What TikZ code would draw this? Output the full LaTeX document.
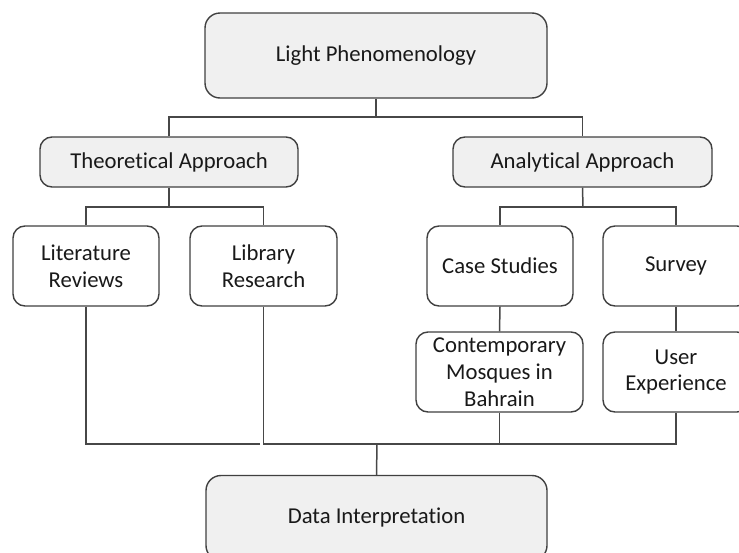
\documentclass[tikz,border=0pt]{standalone}
\usepackage{fontspec}
\setmainfont{Carlito}[Ligatures=CommonOff]
\begin{document}
\begin{tikzpicture}[x=0.5pt,y=-0.5pt,
  box/.style={draw=black!75, line width=0.7pt, rounded corners=6pt, align=center,
    inner sep=0pt, font=\fontsize{11.35pt}{13.4pt}\selectfont, text=black!90},
  grey/.style={box, fill=black!6},
  white/.style={box, fill=white},
  conn/.style={draw=black!72, line width=0.75pt}]
\useasboundingbox (0,0) rectangle (739,552);
\clip (0,0) rectangle (739,552);
\node[grey, minimum width=171pt, minimum height=42.5pt, rounded corners=7.5pt] (top) at (376,55.5) {Light Phenomenology};
\node[grey, minimum width=129pt, minimum height=25pt] (theo) at (169,162) {Theoretical Approach};
\node[grey, minimum width=129.5pt, minimum height=25pt] (anal) at (582.5,162) {Analytical Approach};
\node[white, minimum width=73pt, minimum height=40pt] (lit) at (86,266) {Literature\\Reviews};
\node[white, minimum width=73.5pt, minimum height=40pt] (lib) at (263.5,266) {Library\\Research};
\node[white, minimum width=73pt, minimum height=40pt] (case) at (500,266) {Case Studies};
\node[white, minimum width=73pt, minimum height=40pt] (survey) at (676,266) {Survey};
\node[white, minimum width=83.5pt, minimum height=40pt] (cont) at (499.5,372) {Contemporary\\Mosques in\\Bahrain};
\node[white, minimum width=73pt, minimum height=40pt] (user) at (676,372) {User\\Experience};
\node[grey, minimum width=170.5pt, minimum height=42.5pt, rounded corners=7.5pt] (data) at (376.5,518) {Data Interpretation};
\coordinate (j1) at (376,117);
\coordinate (j2) at (169,207);
\coordinate (j3) at (583,207);
\coordinate (j4) at (377,444);
\coordinate (j5) at (260,444);
\draw[conn] (top.south) -- (j1);
\draw[conn] (theo.north) |- (j1) -| (anal.north);
\draw[conn] (theo.south) -- (j2);
\draw[conn] (lit.north) |- (j2) -| (lib.north);
\draw[conn] (anal.south) -- (j3);
\draw[conn] (case.north) |- (j3) -| (survey.north);
\draw[conn] (case.south) -- (cont.north);
\draw[conn] (survey.south) -- (user.north);
\draw[conn] (lit.south) |- (j5);
\draw[conn] (lib.south) |- (j4) -| (user.south);
\draw[conn] (cont.south) -- (cont.south |- j4);
\draw[conn] (j4) -- (data.north);
\end{tikzpicture}
\end{document}
